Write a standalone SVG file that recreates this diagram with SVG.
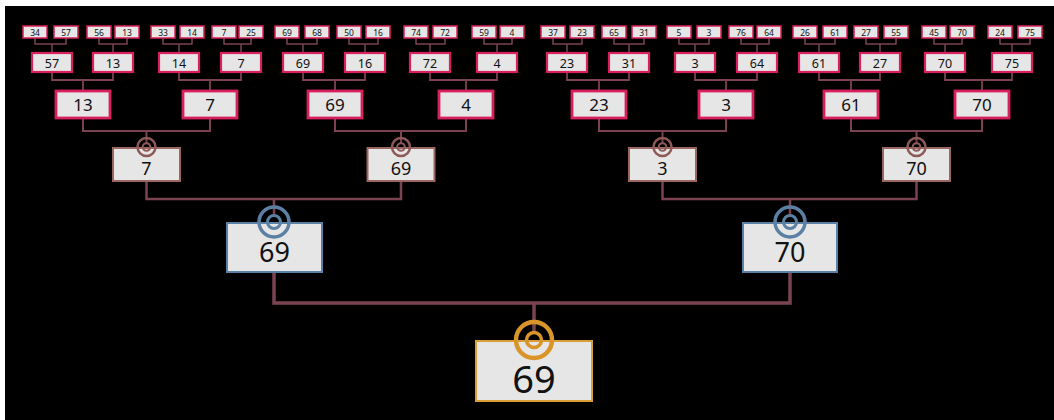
<svg xmlns="http://www.w3.org/2000/svg" width="1054" height="420" viewBox="0 0 1054 420">
<style>
.box{fill:#e6e6e6}
.b0{stroke:#d8205c;stroke-width:1.5}
.b1{stroke:#d8205c;stroke-width:2.2}
.b2{stroke:#d8205c;stroke-width:2.8}
.b3{stroke:#9a6661;stroke-width:2}
.b4{stroke:#5b80a5;stroke-width:2}
.b5{stroke:#d99e36;stroke-width:2}
text{font-family:"Noto Sans","Liberation Sans",sans-serif;fill:#111;text-anchor:middle}
.t0{font-size:8.5px}
.t1{font-size:12.5px}
.t2{font-size:17px}
.t3{font-size:18px}
.t4{font-size:27px}
.t5{font-size:38px}
.c{fill:none;stroke:#7b4352}
.r{fill:none}
.r3{stroke:#8e5a58}
.r4{stroke:#5c80a4}
.r5{stroke:#d9952a}
</style>
<rect x="0" y="0" width="1054" height="420" fill="#ffffff"/>
<rect x="5" y="6" width="1049" height="414" fill="#000000"/>
<g id="connectors">
<path class="c" stroke-width="1.5" d="M35 38V44H66V38M52 44V53 M99 38V44H127V38M113 44V53 M163 38V44H192V38M179 44V53 M224 38V44H251V38M241 44V53 M287 38V44H317V38M303 44V53 M349 38V44H378V38M365 44V53 M416 38V44H445V38M430 44V53 M484 38V44H512V38M497 44V53 M553 38V44H582V38M567 44V53 M614 38V44H644V38M629 44V53 M679 38V44H709V38M695 44V53 M741 38V44H769V38M757 44V53 M805 38V44H835V38M819 44V53 M866 38V44H896V38M880 44V53 M934 38V44H962V38M945 44V53 M1000 38V44H1030V38M1012 44V53"/>
<path class="c" stroke-width="1.8" d="M52 72V80H113V72M83 80V91 M179 72V80H241V72M210 80V91 M303 72V80H365V72M335 80V91 M430 72V80H497V72M466 80V91 M567 72V80H629V72M599 80V91 M695 72V80H757V72M726 80V91 M819 72V80H880V72M851 80V91 M945 72V80H1012V72M982 80V91"/>
<path class="c" stroke-width="2" d="M83 118V131H210V118M146.5 131V143 M335 118V131H466V118M401 131V143 M599 118V131H726V118M662.5 131V143 M851 118V131H982V118M916.5 131V143"/>
<path class="c" stroke-width="2.5" d="M146.5 181V199H401V181M274 199V216 M662.5 181V199H916.5V181M790 199V216"/>
<path class="c" stroke-width="3.5" stroke="#7a3553" d="M274 272V303H790V272M534 303V332"/>
</g>
<g id="n-l0">
<g id="leaf-1"><rect class="box b0" x="23" y="26" width="24" height="12"/><text class="t0" x="35" y="35.8">34</text></g>
<g id="leaf-2"><rect class="box b0" x="54" y="26" width="24" height="12"/><text class="t0" x="66" y="35.8">57</text></g>
<g id="leaf-3"><rect class="box b0" x="87" y="26" width="24" height="12"/><text class="t0" x="99" y="35.8">56</text></g>
<g id="leaf-4"><rect class="box b0" x="115" y="26" width="24" height="12"/><text class="t0" x="127" y="35.8">13</text></g>
<g id="leaf-5"><rect class="box b0" x="151" y="26" width="24" height="12"/><text class="t0" x="163" y="35.8">33</text></g>
<g id="leaf-6"><rect class="box b0" x="180" y="26" width="24" height="12"/><text class="t0" x="192" y="35.8">14</text></g>
<g id="leaf-7"><rect class="box b0" x="212" y="26" width="24" height="12"/><text class="t0" x="224" y="35.8">7</text></g>
<g id="leaf-8"><rect class="box b0" x="239" y="26" width="24" height="12"/><text class="t0" x="251" y="35.8">25</text></g>
<g id="leaf-9"><rect class="box b0" x="275" y="26" width="24" height="12"/><text class="t0" x="287" y="35.8">69</text></g>
<g id="leaf-10"><rect class="box b0" x="305" y="26" width="24" height="12"/><text class="t0" x="317" y="35.8">68</text></g>
<g id="leaf-11"><rect class="box b0" x="337" y="26" width="24" height="12"/><text class="t0" x="349" y="35.8">50</text></g>
<g id="leaf-12"><rect class="box b0" x="366" y="26" width="24" height="12"/><text class="t0" x="378" y="35.8">16</text></g>
<g id="leaf-13"><rect class="box b0" x="404" y="26" width="24" height="12"/><text class="t0" x="416" y="35.8">74</text></g>
<g id="leaf-14"><rect class="box b0" x="433" y="26" width="24" height="12"/><text class="t0" x="445" y="35.8">72</text></g>
<g id="leaf-15"><rect class="box b0" x="472" y="26" width="24" height="12"/><text class="t0" x="484" y="35.8">59</text></g>
<g id="leaf-16"><rect class="box b0" x="500" y="26" width="24" height="12"/><text class="t0" x="512" y="35.8">4</text></g>
<g id="leaf-17"><rect class="box b0" x="541" y="26" width="24" height="12"/><text class="t0" x="553" y="35.8">37</text></g>
<g id="leaf-18"><rect class="box b0" x="570" y="26" width="24" height="12"/><text class="t0" x="582" y="35.8">23</text></g>
<g id="leaf-19"><rect class="box b0" x="602" y="26" width="24" height="12"/><text class="t0" x="614" y="35.8">65</text></g>
<g id="leaf-20"><rect class="box b0" x="632" y="26" width="24" height="12"/><text class="t0" x="644" y="35.8">31</text></g>
<g id="leaf-21"><rect class="box b0" x="667" y="26" width="24" height="12"/><text class="t0" x="679" y="35.8">5</text></g>
<g id="leaf-22"><rect class="box b0" x="697" y="26" width="24" height="12"/><text class="t0" x="709" y="35.8">3</text></g>
<g id="leaf-23"><rect class="box b0" x="729" y="26" width="24" height="12"/><text class="t0" x="741" y="35.8">76</text></g>
<g id="leaf-24"><rect class="box b0" x="757" y="26" width="24" height="12"/><text class="t0" x="769" y="35.8">64</text></g>
<g id="leaf-25"><rect class="box b0" x="793" y="26" width="24" height="12"/><text class="t0" x="805" y="35.8">26</text></g>
<g id="leaf-26"><rect class="box b0" x="823" y="26" width="24" height="12"/><text class="t0" x="835" y="35.8">61</text></g>
<g id="leaf-27"><rect class="box b0" x="854" y="26" width="24" height="12"/><text class="t0" x="866" y="35.8">27</text></g>
<g id="leaf-28"><rect class="box b0" x="884" y="26" width="24" height="12"/><text class="t0" x="896" y="35.8">55</text></g>
<g id="leaf-29"><rect class="box b0" x="922" y="26" width="24" height="12"/><text class="t0" x="934" y="35.8">45</text></g>
<g id="leaf-30"><rect class="box b0" x="950" y="26" width="24" height="12"/><text class="t0" x="962" y="35.8">70</text></g>
<g id="leaf-31"><rect class="box b0" x="988" y="26" width="24" height="12"/><text class="t0" x="1000" y="35.8">24</text></g>
<g id="leaf-32"><rect class="box b0" x="1018" y="26" width="24" height="12"/><text class="t0" x="1030" y="35.8">75</text></g>
</g>
<g id="n-l1">
<g id="l1-1"><rect class="box b1" x="32" y="53" width="40" height="19"/><text class="t1" x="52" y="67.5">57</text></g>
<g id="l1-2"><rect class="box b1" x="93" y="53" width="40" height="19"/><text class="t1" x="113" y="67.5">13</text></g>
<g id="l1-3"><rect class="box b1" x="159" y="53" width="40" height="19"/><text class="t1" x="179" y="67.5">14</text></g>
<g id="l1-4"><rect class="box b1" x="221" y="53" width="40" height="19"/><text class="t1" x="241" y="67.5">7</text></g>
<g id="l1-5"><rect class="box b1" x="283" y="53" width="40" height="19"/><text class="t1" x="303" y="67.5">69</text></g>
<g id="l1-6"><rect class="box b1" x="345" y="53" width="40" height="19"/><text class="t1" x="365" y="67.5">16</text></g>
<g id="l1-7"><rect class="box b1" x="410" y="53" width="40" height="19"/><text class="t1" x="430" y="67.5">72</text></g>
<g id="l1-8"><rect class="box b1" x="477" y="53" width="40" height="19"/><text class="t1" x="497" y="67.5">4</text></g>
<g id="l1-9"><rect class="box b1" x="547" y="53" width="40" height="19"/><text class="t1" x="567" y="67.5">23</text></g>
<g id="l1-10"><rect class="box b1" x="609" y="53" width="40" height="19"/><text class="t1" x="629" y="67.5">31</text></g>
<g id="l1-11"><rect class="box b1" x="675" y="53" width="40" height="19"/><text class="t1" x="695" y="67.5">3</text></g>
<g id="l1-12"><rect class="box b1" x="737" y="53" width="40" height="19"/><text class="t1" x="757" y="67.5">64</text></g>
<g id="l1-13"><rect class="box b1" x="799" y="53" width="40" height="19"/><text class="t1" x="819" y="67.5">61</text></g>
<g id="l1-14"><rect class="box b1" x="860" y="53" width="40" height="19"/><text class="t1" x="880" y="67.5">27</text></g>
<g id="l1-15"><rect class="box b1" x="925" y="53" width="40" height="19"/><text class="t1" x="945" y="67.5">70</text></g>
<g id="l1-16"><rect class="box b1" x="992" y="53" width="40" height="19"/><text class="t1" x="1012" y="67.5">75</text></g>
</g>
<g id="n-l2">
<g id="l2-1"><rect class="box b2" x="56" y="91" width="54" height="27"/><text class="t2" x="83" y="111">13</text></g>
<g id="l2-2"><rect class="box b2" x="183" y="91" width="54" height="27"/><text class="t2" x="210" y="111">7</text></g>
<g id="l2-3"><rect class="box b2" x="308" y="91" width="54" height="27"/><text class="t2" x="335" y="111">69</text></g>
<g id="l2-4"><rect class="box b2" x="439" y="91" width="54" height="27"/><text class="t2" x="466" y="111">4</text></g>
<g id="l2-5"><rect class="box b2" x="572" y="91" width="54" height="27"/><text class="t2" x="599" y="111">23</text></g>
<g id="l2-6"><rect class="box b2" x="699" y="91" width="54" height="27"/><text class="t2" x="726" y="111">3</text></g>
<g id="l2-7"><rect class="box b2" x="824" y="91" width="54" height="27"/><text class="t2" x="851" y="111">61</text></g>
<g id="l2-8"><rect class="box b2" x="955" y="91" width="54" height="27"/><text class="t2" x="982" y="111">70</text></g>
</g>
<g id="n-l3">
<g id="l3-1"><rect class="box b3" x="113" y="148" width="67" height="33"/><text class="t3" x="146.5" y="175">7</text><circle class="r r3" cx="146.5" cy="147" r="9" stroke-width="2.5"/><circle class="r r3" cx="146.5" cy="147" r="3.8" stroke-width="2"/></g>
<g id="l3-2"><rect class="box b3" x="367.5" y="148" width="67" height="33"/><text class="t3" x="401" y="175">69</text><circle class="r r3" cx="401" cy="147" r="9" stroke-width="2.5"/><circle class="r r3" cx="401" cy="147" r="3.8" stroke-width="2"/></g>
<g id="l3-3"><rect class="box b3" x="629" y="148" width="67" height="33"/><text class="t3" x="662.5" y="175">3</text><circle class="r r3" cx="662.5" cy="147" r="9" stroke-width="2.5"/><circle class="r r3" cx="662.5" cy="147" r="3.8" stroke-width="2"/></g>
<g id="l3-4"><rect class="box b3" x="883" y="148" width="67" height="33"/><text class="t3" x="916.5" y="175">70</text><circle class="r r3" cx="916.5" cy="147" r="9" stroke-width="2.5"/><circle class="r r3" cx="916.5" cy="147" r="3.8" stroke-width="2"/></g>
</g>
<g id="n-l4">
<g id="l4-1"><rect class="box b4" x="227" y="223" width="95" height="49"/><text class="t4" x="274.5" y="262">69</text><circle class="r r4" cx="274" cy="222" r="15" stroke-width="3.5"/><circle class="r r4" cx="274" cy="222" r="6.5" stroke-width="3"/></g>
<g id="l4-2"><rect class="box b4" x="743" y="223" width="94" height="49"/><text class="t4" x="790" y="262">70</text><circle class="r r4" cx="790" cy="222" r="15" stroke-width="3.5"/><circle class="r r4" cx="790" cy="222" r="6.5" stroke-width="3"/></g>
</g>
<g id="root">
<rect class="box b5" x="476" y="341" width="116" height="60"/><text class="t5" x="534" y="393">69</text>
<circle class="r r5" cx="534" cy="340" r="18" stroke-width="4.5"/><circle class="r r5" cx="534" cy="340" r="7.5" stroke-width="3.5"/>
</g>
</svg>
